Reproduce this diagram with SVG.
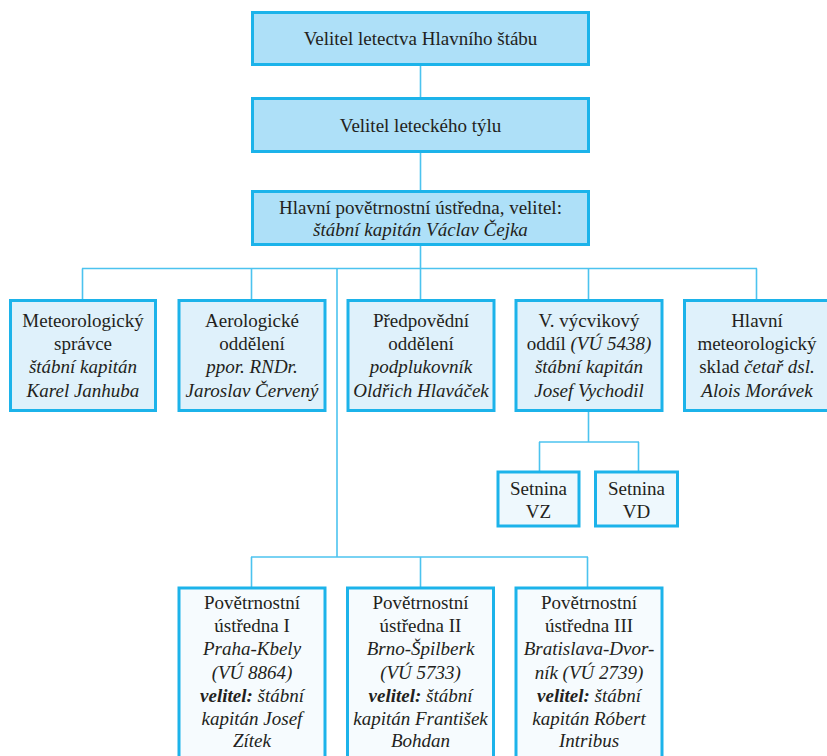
<svg xmlns="http://www.w3.org/2000/svg" width="827" height="756" viewBox="0 0 827 756">
  <style>
    text { font-family: "Liberation Serif", "Times New Roman", serif; font-size: 19px; fill: #231f20; text-anchor: middle; }
    .it { font-style: italic; }
    .bi { font-style: italic; font-weight: bold; }
    .box { stroke: #1cb3ea; stroke-width: 3; }
    .top { fill: #aee0f8; }
    .mid { fill: #dff1fb; }
    .sub { fill: #eef8fd; }
    .low { fill: #f6fbfe; }
    .conn line { stroke: #4cc3ef; stroke-width: 1.6; }
  </style>
  <rect width="827" height="756" fill="#ffffff"/>

  <!-- connectors between the units -->
  <g class="conn" id="connectors">
    <line x1="420.5" y1="66" x2="420.5" y2="97"/>
    <line x1="420.5" y1="153" x2="420.5" y2="190"/>
    <line x1="420.5" y1="246" x2="420.5" y2="268.5"/>
    <line x1="82" y1="268.5" x2="757" y2="268.5"/>
    <line x1="82.5" y1="268.5" x2="82.5" y2="299"/>
    <line x1="251.5" y1="268.5" x2="251.5" y2="299"/>
    <line x1="420.5" y1="268.5" x2="420.5" y2="299"/>
    <line x1="588.5" y1="268.5" x2="588.5" y2="299"/>
    <line x1="756.5" y1="268.5" x2="756.5" y2="299"/>
    <line x1="337" y1="268.5" x2="337" y2="557"/>
    <line x1="251" y1="557" x2="588" y2="557"/>
    <line x1="251.5" y1="557" x2="251.5" y2="587"/>
    <line x1="420.5" y1="557" x2="420.5" y2="587"/>
    <line x1="587.5" y1="557" x2="587.5" y2="587"/>
    <line x1="588.5" y1="412" x2="588.5" y2="442"/>
    <line x1="539" y1="442" x2="639" y2="442"/>
    <line x1="539.5" y1="442" x2="539.5" y2="471"/>
    <line x1="638.5" y1="442" x2="638.5" y2="471"/>
  </g>

  <!-- command chain -->
  <g id="velitel-letectva">
    <rect class="box top" x="252.5" y="12.5" width="336" height="52"/>
    <text x="420.5" y="45">Velitel letectva Hlavního štábu</text>
  </g>
  <g id="velitel-tylu">
    <rect class="box top" x="252.5" y="98.5" width="336" height="53"/>
    <text x="420.5" y="131.5">Velitel leteckého týlu</text>
  </g>
  <g id="hlavni-ustredna">
    <rect class="box top" x="252.5" y="191.5" width="336" height="53"/>
    <text x="420.5" y="213.5">Hlavní povětrnostní ústředna, velitel:</text>
    <text x="420.5" y="235.5" class="it">štábní kapitán Václav Čejka</text>
  </g>

  <!-- departments -->
  <g id="meteorologicky-spravce">
    <rect class="box mid" x="10.5" y="300.5" width="145" height="110"/>
    <text x="83" y="327">Meteorologický</text>
    <text x="83" y="350">správce</text>
    <text x="83" y="373" class="it">štábní kapitán</text>
    <text x="83" y="397" class="it">Karel Janhuba</text>
  </g>
  <g id="aerologicke-oddeleni">
    <rect class="box mid" x="179" y="300.5" width="146" height="110"/>
    <text x="252" y="327">Aerologické</text>
    <text x="252" y="350">oddělení</text>
    <text x="252" y="373" class="it">ppor. RNDr.</text>
    <text x="252" y="397" class="it">Jaroslav Červený</text>
  </g>
  <g id="predpovedni-oddeleni">
    <rect class="box mid" x="348" y="300.5" width="146" height="110"/>
    <text x="421" y="327">Předpovědní</text>
    <text x="421" y="350">oddělení</text>
    <text x="421" y="373" class="it">podplukovník</text>
    <text x="421" y="397" class="it">Oldřich Hlaváček</text>
  </g>
  <g id="vycvikovy-oddil">
    <rect class="box mid" x="516" y="300.5" width="146" height="110"/>
    <text x="589" y="327">V. výcvikový</text>
    <text x="589" y="350">oddíl <tspan class="it">(VÚ 5438)</tspan></text>
    <text x="589" y="373" class="it">štábní kapitán</text>
    <text x="589" y="397" class="it">Josef Vychodil</text>
  </g>
  <g id="meteorologicky-sklad">
    <rect class="box mid" x="684.5" y="300.5" width="146" height="110"/>
    <text x="757" y="327">Hlavní</text>
    <text x="757" y="350">meteorologický</text>
    <text x="757" y="373">sklad <tspan class="it">četař dsl.</tspan></text>
    <text x="757" y="397" class="it">Alois Morávek</text>
  </g>

  <!-- companies -->
  <g id="setnina-vz">
    <rect class="box sub" x="498" y="472" width="81" height="54"/>
    <text x="538.5" y="494.5">Setnina</text>
    <text x="538.5" y="518">VZ</text>
  </g>
  <g id="setnina-vd">
    <rect class="box sub" x="595.5" y="472" width="82" height="54"/>
    <text x="636.5" y="494.5">Setnina</text>
    <text x="636.5" y="518">VD</text>
  </g>

  <!-- regional weather centres -->
  <g id="ustredna-1">
    <rect class="box low" x="179" y="588" width="146" height="200"/>
    <text x="252" y="608.5">Povětrnostní</text>
    <text x="252" y="632">ústředna I</text>
    <text x="252" y="655" class="it">Praha-Kbely</text>
    <text x="252" y="678.5" class="it">(VÚ 8864)</text>
    <text x="252" y="702"><tspan class="bi">velitel:</tspan><tspan class="it"> štábní</tspan></text>
    <text x="252" y="725" class="it">kapitán Josef</text>
    <text x="252" y="747" class="it">Zítek</text>
  </g>
  <g id="ustredna-2">
    <rect class="box low" x="347.5" y="588" width="146" height="200"/>
    <text x="420.5" y="608.5">Povětrnostní</text>
    <text x="420.5" y="632">ústředna II</text>
    <text x="420.5" y="655" class="it">Brno-Špilberk</text>
    <text x="420.5" y="678.5" class="it">(VÚ 5733)</text>
    <text x="420.5" y="702"><tspan class="bi">velitel:</tspan><tspan class="it"> štábní</tspan></text>
    <text x="420.5" y="725" class="it">kapitán František</text>
    <text x="420.5" y="747" class="it">Bohdan</text>
  </g>
  <g id="ustredna-3">
    <rect class="box low" x="516" y="588" width="146" height="200"/>
    <text x="589" y="608.5">Povětrnostní</text>
    <text x="589" y="632">ústředna III</text>
    <text x="589" y="655" class="it">Bratislava-Dvor-</text>
    <text x="589" y="678.5" class="it">ník (VÚ 2739)</text>
    <text x="589" y="702"><tspan class="bi">velitel:</tspan><tspan class="it"> štábní</tspan></text>
    <text x="589" y="725" class="it">kapitán Róbert</text>
    <text x="589" y="747" class="it">Intribus</text>
  </g>
</svg>
